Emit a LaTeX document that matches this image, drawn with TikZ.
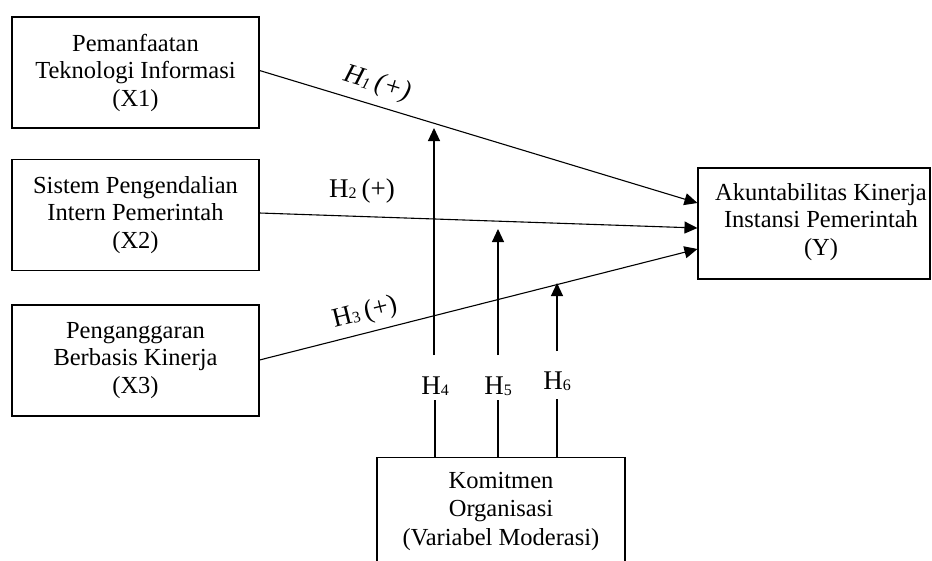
\documentclass[tikz,border=0pt]{standalone}
\usepackage{fontspec}
\setmainfont{Liberation Serif}
\usetikzlibrary{arrows.meta}
\newcommand{\hsub}[1]{\raisebox{-1.5pt}{\fontsize{16}{16}\selectfont #1}}
\begin{document}
\begin{tikzpicture}[x=1pt,y=-1pt,
  box/.style={draw, line width=1.1pt, minimum width=247pt, minimum height=111pt, align=center, font=\fontsize{24.5}{27.5}\selectfont, inner sep=0pt},
  boxtext/.style={align=center, font=\fontsize{24.5}{27.5}\selectfont, inner sep=0pt},
  link/.style={line width=1.1pt, -{Triangle[length=13pt,width=12pt]}},
  seg/.style={line width=1.1pt},
  hyp/.style={font=\fontsize{27}{30}\selectfont, inner sep=0pt}]
\useasboundingbox (0,0) rectangle (932,560);
\clip (0,0) rectangle (932,560);
% boxes
\node[box] (x1) at (135.5,72.5) {Pemanfaatan\\Teknologi Informasi\\(X1)};
\node[box] (x2) at (135.5,215) {Sistem Pengendalian\\Intern Pemerintah\\(X2)};
\node[box] (x3) at (135.5,360.5) {Penganggaran\\Berbasis Kinerja\\(X3)};
\node[box, minimum width=232pt] (y) at (814,223.5) {};
\node[boxtext] (yt) at (821,222) {Akuntabilitas Kinerja\\Instansi Pemerintah\\(Y)};
\node[box, minimum width=248pt, minimum height=142pt, anchor=north] (k) at (501,457) {};
\node[boxtext, font=\fontsize{24.5}{28.5}\selectfont] (kt) at (501,511) {Komitmen\\Organisasi\\(Variabel Moderasi)};
% direct effects
\draw[link] ([yshift=2pt]x1.east) -- ([yshift=20.5pt]y.west);
\draw[link] ([yshift=2pt]x2.east) -- ([yshift=-4.5pt]y.west);
\draw[link] ([yshift=0.5pt]x3.east) -- ([yshift=-25.5pt]y.west);
\node[hyp, rotate=-17] (l1) at (377,84) {\textit{H\hsub{1}\hspace{5pt}(+)}};
\node[hyp] (l2) at (362,191) {H\hsub{2}\hspace{5pt}(+)};
\node[hyp, rotate=14] (l3) at (365,313) {H\hsub{3}\hspace{5pt}(+)};
% moderation
\coordinate (t4) at (434,128);
\coordinate (t5) at (498,229);
\coordinate (t6) at (557,283);
\node[hyp] (h4) at (435,386) {H\hsub{4}};
\node[hyp] (h5) at (498,386) {H\hsub{5}};
\node[hyp] (h6) at (557,381) {H\hsub{6}};
\coordinate (h4a) at (434,355);
\coordinate (h4b) at (435,400);
\coordinate (h5a) at (498,355);
\coordinate (h5b) at (498,400);
\coordinate (h6a) at (557,351);
\coordinate (h6b) at (557,399);
\draw[seg] (k.north -| h4b) -- (h4b);
\draw[seg] (k.north -| h5b) -- (h5b);
\draw[seg] (k.north -| h6b) -- (h6b);
\draw[link] (h4a) -- (t4);
\draw[link] (h5a) -- (t5);
\draw[link] (h6a) -- (t6);
\end{tikzpicture}
\end{document}
